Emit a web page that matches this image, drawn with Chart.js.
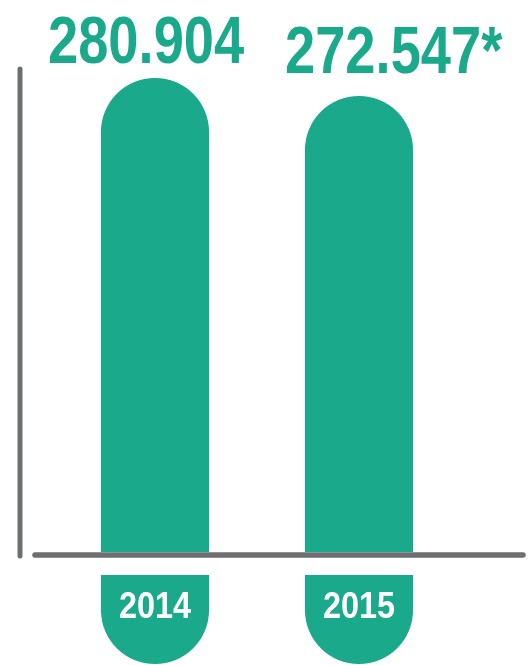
<!DOCTYPE html>
<html>
<head>
<meta charset="utf-8">
<script src="https://cdn.jsdelivr.net/npm/chart.js@4/dist/chart.umd.min.js"></script>
<style>
  html, body { margin: 0; padding: 0; background: #ffffff; }
  #wrap { width: 532px; height: 665px; position: relative; }
</style>
</head>
<body>
<div id="wrap"><canvas id="visitorsChart"></canvas></div>
<script>
// data
const years = ["2014", "2015"];
const visitors = [280.904, 272.547];
const valueLabels = ["280.904", "272.547*"];

const GREEN = "#1ba98b";
const GREY = "#6d6e71";
const FONT = '"Liberation Sans", Arial, sans-serif';

// the original uses a condensed face, so squeeze a regular one sideways
function condensedText(ctx, text, x, y, squeeze) {
  ctx.save();
  ctx.translate(x, y);
  ctx.scale(squeeze, 1);
  ctx.fillText(text, 0, 0);
  ctx.restore();
}

// axis lines, year tabs and the big value labels
const decorPlugin = {
  id: "decor",
  afterDatasetsDraw(chart) {
    const ctx = chart.ctx;
    const area = chart.chartArea;
    const bars = chart.getDatasetMeta(0).data;

    ctx.save();
    ctx.lineCap = "round";
    ctx.strokeStyle = GREY;

    // vertical axis
    ctx.lineWidth = 5;
    ctx.beginPath();
    ctx.moveTo(area.left - 33, area.top + 2);
    ctx.lineTo(area.left - 33, area.bottom + 4);
    ctx.stroke();

    // horizontal axis
    ctx.lineWidth = 5.5;
    ctx.beginPath();
    ctx.moveTo(area.left - 18, area.bottom + 3);
    ctx.lineTo(area.right + 62, area.bottom + 3);
    ctx.stroke();

    // year tabs under the axis
    bars.forEach((bar, i) => {
      const half = bar.width / 2;
      const top = area.bottom + 23;
      const straight = 35;
      ctx.fillStyle = GREEN;
      ctx.beginPath();
      ctx.moveTo(bar.x - half, top);
      ctx.lineTo(bar.x + half, top);
      ctx.lineTo(bar.x + half, top + straight);
      ctx.arc(bar.x, top + straight, half, 0, Math.PI);
      ctx.closePath();
      ctx.fill();

      ctx.fillStyle = "#ffffff";
      ctx.font = "bold 36px " + FONT;
      ctx.textAlign = "center";
      ctx.textBaseline = "alphabetic";
      condensedText(ctx, years[i], bar.x, top + 43, 0.9);
    });

    // value labels over the bars
    const dx = [-107, -74];
    const dy = [15, 23];
    ctx.fillStyle = GREEN;
    ctx.font = "bold 67px " + FONT;
    ctx.textAlign = "left";
    ctx.textBaseline = "alphabetic";
    bars.forEach((bar, i) => {
      condensedText(ctx, valueLabels[i], bar.x + dx[i], bar.y - dy[i], 0.81);
    });
    ctx.restore();
  }
};

new Chart(document.getElementById("visitorsChart"), {
  type: "bar",
  data: {
    labels: years,
    datasets: [
      {
        label: "Visitors",
        data: visitors,
        backgroundColor: GREEN,
        borderWidth: 0,
        borderSkipped: "bottom",
        borderRadius: { topLeft: 60, topRight: 60, bottomLeft: 0, bottomRight: 0 },
        categoryPercentage: 1,
        barPercentage: 0.53,
      },
    ],
  },
  options: {
    responsive: true,
    maintainAspectRatio: false,
    animation: false,
    layout: {
      padding: { top: 67, bottom: 113, left: 53, right: 71 },
    },
    scales: {
      x: { display: false },
      y: { display: false, min: 60.8, max: 286 },
    },
    plugins: {
      legend: { display: false },
      tooltip: { enabled: false },
    },
  },
  plugins: [decorPlugin],
});
</script>
</body>
</html>
